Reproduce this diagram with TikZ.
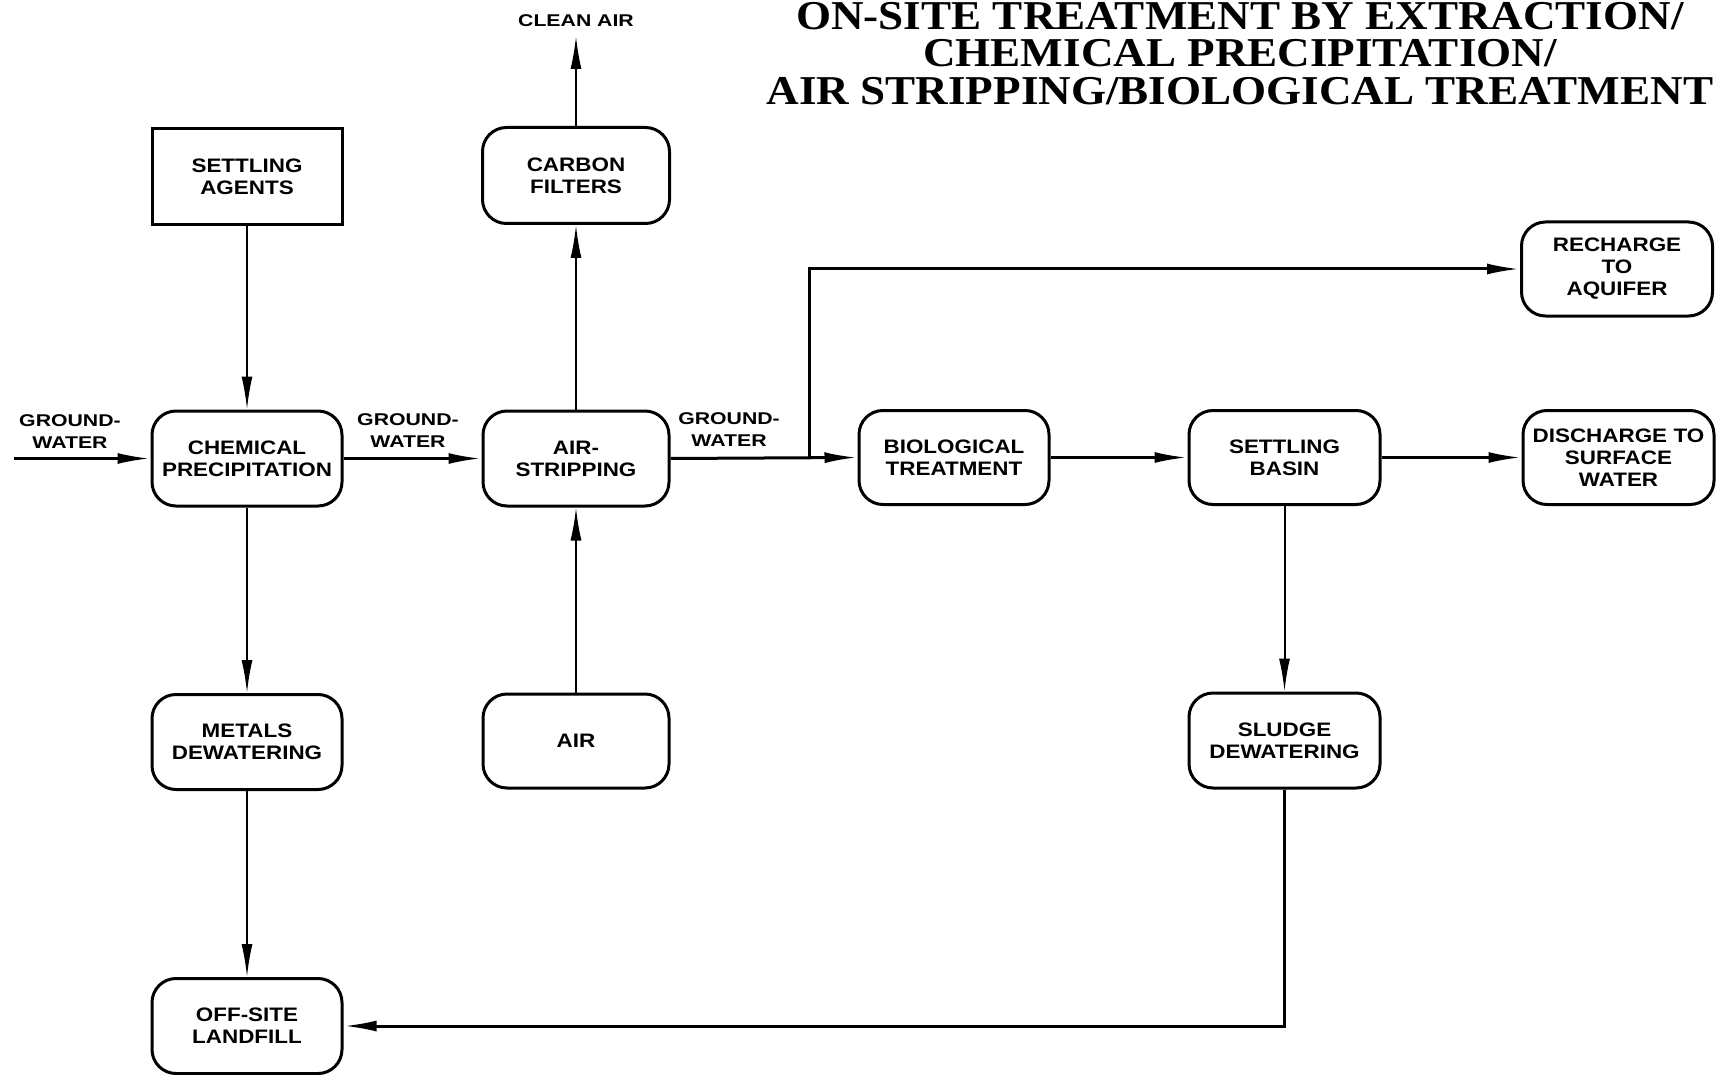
\documentclass[tikz,border=0pt]{standalone}
\usepackage{fontspec}
\usetikzlibrary{arrows.meta}
\newfontfamily\boxfont[FakeStretch=1.15]{Liberation Sans}
\newfontfamily\lblfont[FakeStretch=1.25]{Liberation Sans}
\newfontfamily\titlefont[FakeStretch=1.1]{Liberation Serif}
\begin{document}
\begin{tikzpicture}[x=1pt,y=-1pt,
  procbox/.style={draw, line width=3pt, rounded corners=24pt, inner sep=0pt,
    align=center, text width=185pt,
    font=\boxfont\bfseries\fontsize{19.5}{22}\selectfont},
  sqbox/.style={procbox, rounded corners=0pt},
  lbl/.style={align=center, inner sep=2pt,
    font=\lblfont\bfseries\fontsize{17}{22}\selectfont},
  ttl/.style={anchor=north, inner sep=0pt, align=center,
    font=\titlefont\bfseries\fontsize{41}{37.5}\selectfont},
  flow/.style={-{Latex[length=33pt,width=11pt]}, line width=2pt},
  mainflow/.style={-{Latex[length=33pt,width=11pt]}, line width=3pt}]
\useasboundingbox (0,0) rectangle (1718,1075);

% title
\node[ttl] (title) at (1240,2) {ON-SITE TREATMENT BY EXTRACTION/\\CHEMICAL PRECIPITATION/\\AIR STRIPPING/BIOLOGICAL TREATMENT};

% boxes
\node[sqbox, minimum width=190pt, minimum height=96pt] (sa) at (247,177) {SETTLING\\AGENTS};
\node[procbox, minimum width=190pt, minimum height=95pt] (cp) at (247,458.5) {CHEMICAL\\PRECIPITATION};
\node[procbox, minimum width=186pt, minimum height=95pt] (as) at (576,458.5) {AIR-\\STRIPPING};
\node[procbox, minimum width=187pt, minimum height=96pt] (cf) at (576,175.5) {CARBON\\FILTERS};
\node[procbox, minimum width=190pt, minimum height=94pt] (bt) at (954,457.5) {BIOLOGICAL\\TREATMENT};
\node[procbox, minimum width=191pt, minimum height=94pt] (sb) at (1284.5,457.5) {SETTLING\\BASIN};
\node[procbox, minimum width=191pt, minimum height=94pt] (dsw) at (1618.5,457.5) {DISCHARGE TO\\SURFACE\\WATER};
\node[procbox, minimum width=191pt, minimum height=94pt] (ra) at (1617,269) {RECHARGE\\TO\\AQUIFER};
\node[procbox, minimum width=190pt, minimum height=95pt] (md) at (247,742) {METALS\\DEWATERING};
\node[procbox, minimum width=186pt, minimum height=94pt] (air) at (576,741) {AIR};
\node[procbox, minimum width=191pt, minimum height=95pt] (sd) at (1284.5,740.5) {SLUDGE\\DEWATERING};
\node[procbox, minimum width=190pt, minimum height=95pt] (ol) at (247,1026) {OFF-SITE\\LANDFILL};

% labels
\node[lbl] (ca) at (576,21) {CLEAN AIR};
\node[lbl] (gw1) at (70,432) {GROUND-\\WATER};
\node[lbl] (gw2) at (408,431) {GROUND-\\WATER};
\node[lbl] (gw3) at (729,430) {GROUND-\\WATER};

% connectors
\coordinate (gin) at (14,458.5);
\coordinate (br) at (809,458.5);
\coordinate (caend) at (576,36);
\draw[mainflow] (gin) -- (cp.west);
\draw[flow] (sa.south) -- (cp.north);
\draw[mainflow] (cp.east) -- (as.west);
\draw[flow] (as.north) -- (cf.south);
\draw[flow] (cf.north) -- (caend);
\draw[flow] (air.north) -- (as.south);
\draw[mainflow] (as.east) -- (bt.west);
\draw[mainflow] (br) |- (ra.west);
\draw[mainflow] (bt.east) -- (sb.west);
\draw[mainflow] (sb.east) -- (dsw.west);
\draw[flow] (sb.south) -- (sd.north);
\draw[flow] (cp.south) -- (md.north);
\draw[flow] (md.south) -- (ol.north);
\draw[mainflow] (sd.south) |- (ol.east);
\end{tikzpicture}
\end{document}
